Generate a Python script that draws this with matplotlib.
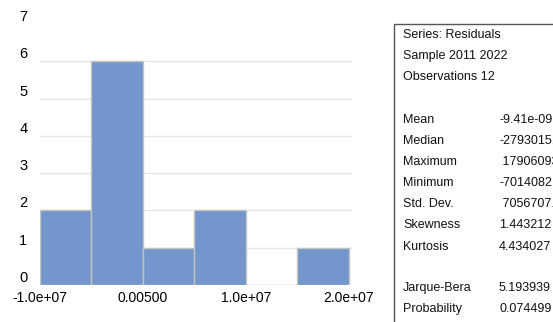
import matplotlib
matplotlib.use("Agg")
from matplotlib import pyplot as plt
from matplotlib.patches import Rectangle

# histogram of residuals
bin_edges = [-1.0e7, -0.5e7, 0.0, 0.5e7, 1.0e7, 1.5e7, 2.0e7]
counts = [2, 6, 1, 2, 0, 1]
x_ticks = [-1.0e7, 0.0, 1.0e7, 2.0e7]
x_tick_labels = ["-1.0e+07", "0.00500", "1.0e+07", "2.0e+07"]
y_ticks = [0, 1, 2, 3, 4, 5, 6, 7]

# stats panel
header_lines = ["Series: Residuals", "Sample 2011 2022", "Observations 12"]
stat_names = ["Mean", "Median", "Maximum", "Minimum", "Std. Dev.", "Skewness", "Kurtosis"]
stat_values = ["-9.41e-09", "-2793015.", " 17906093", "-7014082.", " 7056707.", "1.443212", "4.434027"]
test_names = ["Jarque-Bera", "Probability"]
test_values = ["5.193939", "0.074499"]

W, H = 553, 322
plt.rcParams['font.family'] = ['Liberation Sans', 'DejaVu Sans']
fig = plt.figure(figsize=(W / 100, H / 100), dpi=100)
ax = fig.add_axes([40 / W, 37 / H, 312 / W, 261 / H])

widths = [bin_edges[i + 1] - bin_edges[i] for i in range(len(counts))]
ax.bar(bin_edges[:-1], counts, width=widths, align='edge',
       color='#7396cc', edgecolor='#c4c4c4', linewidth=1.0, zorder=2)

ax.set_xlim(-1.0e7, 2.03e7)
ax.set_ylim(0, 7)
ax.set_xticks(x_ticks)
ax.set_xticklabels(x_tick_labels, fontsize=10)
ax.set_yticks(y_ticks)
ax.set_yticklabels([str(t) for t in y_ticks], fontsize=10.5)
for t in ax.get_yticklabels():
    t.set_verticalalignment('bottom')
ax.tick_params(axis='both', length=0)
ax.tick_params(axis='x', pad=4)
ax.tick_params(axis='y', pad=9)
for s in ax.spines.values():
    s.set_visible(False)
ax.yaxis.grid(True, color='#e6e6e6', linewidth=1.0, zorder=0)
gl = ax.yaxis.get_gridlines()
gl[0].set_visible(False)
gl[-1].set_visible(False)
ax.set_axisbelow(True)

# boxed statistics, clipped at right and bottom edge
box = Rectangle((394 / W, -10 / H), 200 / W, (H - 24 + 10) / H, transform=fig.transFigure,
                facecolor='none', edgecolor='#555555', linewidth=1.0, clip_on=False)
fig.add_artist(box)

def put(x, y, s):
    fig.text(x / W, 1 - y / H, s, fontsize=9, va='center', ha='left', color='#111111')

for i, s in enumerate(header_lines):
    put(403, 35 + 21 * i, s)
for i, (n, v) in enumerate(zip(stat_names, stat_values)):
    put(403, 120 + 21.1 * i, n)
    put(499, 120 + 21.1 * i, v)
for i, (n, v) in enumerate(zip(test_names, test_values)):
    put(403, 288 + 21 * i, n)
    put(499, 288 + 21 * i, v)

fig.savefig("out.png", dpi=100)
